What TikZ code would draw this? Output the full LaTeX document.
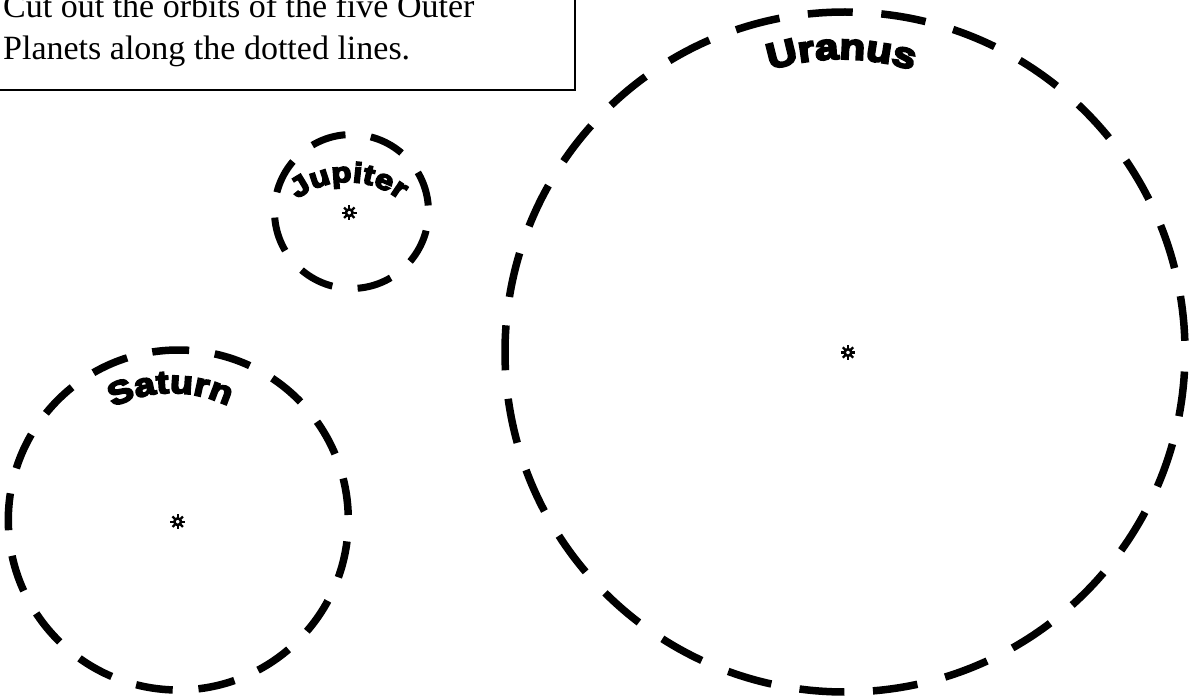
\documentclass[tikz,border=0pt]{standalone}
\usepackage{fontspec}
\setmainfont{Liberation Serif}
\newfontfamily\orbitfont{Liberation Sans}[FakeBold=6, FakeStretch=1.17]
\usetikzlibrary{decorations.text}

\tikzset{
  orbit/.style={line width=7.5pt, line cap=butt},
  caption/.style={font=\fontsize{34}{40}\selectfont, inner sep=0pt, anchor=base west},
  arched/.style n args={2}{decorate, decoration={text along path, text align=fit to path,
      text format delimiters={|}{|}, text={|\orbitfont\bfseries\fontsize{#1}{#1}\selectfont|#2}}},
  sunmark/.pic={
    \draw[line width=2.6pt] (0,0) circle[radius=3.3];
    \foreach \a in {0,45,...,315}
      \draw[line width=2.3pt] (\a:4.2) -- (\a:7.4);
  },
}

\begin{document}
\begin{tikzpicture}[x=1pt, y=1pt]
  \useasboundingbox (0,0) rectangle (1192,-698);
  \clip (0,0) rectangle (1192,-698);

  % instruction box
  \draw[line width=1.4pt] (-5,5) rectangle (575,-90);
  \node[caption] (line1) at (3,-18) {Cut out the orbits of the five Outer};
  \node[caption] (line2) at (3,-60) {Planets along the dotted lines.};

  % centres of the orbits
  \coordinate (jc) at (351.5,-211.5);
  \coordinate (sc) at (178.3,-520);
  \coordinate (uc) at (845,-352);

  % suns
  \pic (jsun) at (349.3,-212.7) {sunmark};
  \pic (ssun) at (177.7,-521.7) {sunmark};
  \pic (usun) at (848,-352.5) {sunmark};

  % dashed orbits
  \draw[orbit, line width=7pt, dash pattern=on 35pt off 25.5pt, dash phase=54.5pt] (jc) circle[radius=77];
  \draw[orbit, dash pattern=on 37pt off 25.8pt, dash phase=57.8pt] (sc) circle[radius=170];
  \draw[orbit, dash pattern=on 45pt off 28.6pt, dash phase=62.4pt] (uc) circle[radius=340];

  % curved planet names
  \path[arched={28}{Jupiter}]
    (348,-266) ++(127.4:84) arc[start angle=127.4, end angle=51.7, radius=84];
  \path[arched={32}{Saturn}]
    (172,-521) ++(117.4:128) arc[start angle=117.4, end angle=64, radius=128];
  \path[arched={36}{Uranus}]
    (841,-294) ++(107.6:235) arc[start angle=107.6, end angle=72.4, radius=235];
\end{tikzpicture}
\end{document}
